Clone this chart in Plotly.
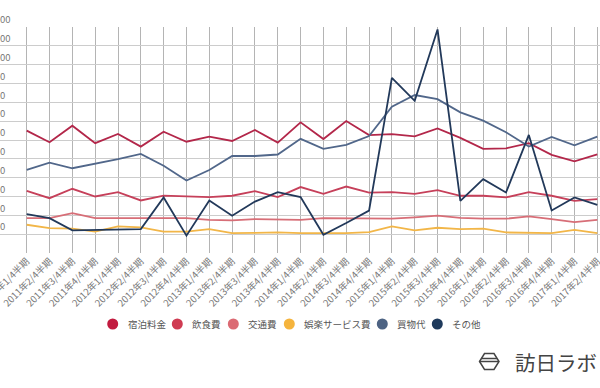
import plotly.graph_objects as go

# ---------------- data ----------------
quarters = [
    "2011年1/4半期", "2011年2/4半期", "2011年3/4半期", "2011年4/4半期",
    "2012年1/4半期", "2012年2/4半期", "2012年3/4半期", "2012年4/4半期",
    "2013年1/4半期", "2013年2/4半期", "2013年3/4半期", "2013年4/4半期",
    "2014年1/4半期", "2014年2/4半期", "2014年3/4半期", "2014年4/4半期",
    "2015年1/4半期", "2015年2/4半期", "2015年3/4半期", "2015年4/4半期",
    "2016年1/4半期", "2016年2/4半期", "2016年3/4半期", "2016年4/4半期",
    "2017年1/4半期", "2017年2/4半期",
]

shukuhaku = [6500, 5880, 6760, 5830, 6320, 5650, 6440, 5910, 6180, 5950, 6530, 5860, 6940,
             6050, 7010, 6260, 6310, 6190, 6610, 6110, 5530, 5560, 5830, 5210, 4870, 5240]
inshoku = [3300, 2910, 3410, 3000, 3230, 2790, 3050, 3000, 2970, 3040, 3280, 2970, 3500,
           3140, 3530, 3210, 3230, 3140, 3340, 3040, 3040, 2950, 3230, 3040, 2770, 2860]
kotsu = [1850, 1850, 2120, 1850, 1850, 1850, 1850, 1850, 1760, 1730, 1800, 1760, 1760,
         1850, 1850, 1850, 1820, 1890, 1980, 1870, 1820, 1820, 1940, 1800, 1640, 1760]
goraku = [1500, 1320, 1290, 1140, 1410, 1360, 1140, 1140, 1270, 1060, 1070, 1090, 1060,
          1060, 1060, 1110, 1410, 1200, 1340, 1270, 1290, 1090, 1090, 1060, 1230, 1060]
kaimono = [4410, 4800, 4500, 4720, 4980, 5260, 4630, 3850, 4410, 5150, 5150, 5230, 6060,
           5530, 5740, 6210, 7770, 8390, 8170, 7470, 7030, 6410, 5650, 6160, 5720, 6180]
sonota = [2070, 1850, 1200, 1230, 1270, 1270, 2950, 920, 2790, 1980, 2730, 3230, 2970,
          970, 1590, 2250, 9300, 8080, 11870, 2770, 3920, 3210, 6270, 2260, 2950, 2560]

series_names = ["宿泊料金", "飲食費", "交通費", "娯楽サービス費", "買物代", "その他"]
series_values = [shukuhaku, inshoku, kotsu, goraku, kaimono, sonota]
legend_colors = ["#c21b3f", "#cf3b52", "#db6a73", "#f5b43d", "#4d6383", "#1f3a5c"]
line_colors = ["#b3274a", "#c6405a", "#d76e77", "#f2b648", "#51678a", "#22395a"]

y_tick_vals = [1000, 2000, 3000, 4000, 5000, 6000, 7000, 8000, 9000, 10000, 11000, 12000]
# the labels are cut by the left edge of the picture: only their last digits show
y_tick_text = ["0", "0", "0", "0", "0", "0", "0", "0", "0", "00", "00", "00"]

logo_text = "訪日ラボ"

# ---------------- layout helpers ----------------
W, H = 600, 388
PLOT_TOP, PLOT_BOTTOM = 27, 253
X0_PX, STEP_PX = 26.7, 22.824


def px_x(px):
    return px / W


def px_y(py):
    return (PLOT_BOTTOM - py) / (PLOT_BOTTOM - PLOT_TOP)


fig = go.Figure()
x_idx = list(range(len(quarters)))
for name, vals, col in zip(series_names, series_values, line_colors):
    fig.add_trace(go.Scatter(
        x=x_idx, y=vals, name=name, mode="lines",
        line=dict(color=col, width=1.8), showlegend=False,
        hovertemplate="%{text}<br>" + name + ": %{y}<extra></extra>",
        text=quarters,
    ))

x_left = -X0_PX / STEP_PX
x_right = (len(quarters) - 1) + (W - (X0_PX + STEP_PX * (len(quarters) - 1))) / STEP_PX

fig.update_layout(
    width=W, height=H,
    margin=dict(l=0, r=0, t=PLOT_TOP, b=H - PLOT_BOTTOM, pad=0, autoexpand=False),
    paper_bgcolor="white", plot_bgcolor="white",
    font=dict(family="Noto Sans CJK JP, Noto Sans, sans-serif", color="#666"),
    xaxis=dict(
        range=[x_left, x_right], tickmode="array", tickvals=x_idx, ticktext=quarters,
        tickangle=-45, tickfont=dict(size=9.5, color="#777"), automargin=False,
        ticklabeloverflow="allow",
        showgrid=True, gridcolor="#b4b4b4", gridwidth=1,
        zeroline=False, showline=False, ticks="", fixedrange=True,
    ),
    yaxis=dict(
        range=[0, 12000], tickmode="array", tickvals=[0] + y_tick_vals,
        ticktext=[""] + y_tick_text, automargin=False,
        ticklabelposition="inside", ticklabelshift=-7, ticklabelstandoff=-3,
        ticklabeloverflow="allow",
        tickfont=dict(size=9.5, color="#777"),
        showgrid=True, gridcolor="#cccccc", gridwidth=1,
        zeroline=False, showline=False, ticks="", fixedrange=True,
    ),
)

# ---------------- legend (drawn by hand) ----------------
legend_cx = [112.7, 177.3, 233.3, 289.3, 382.3, 437.3]
legend_cy = 324
r = 5.5
for cx, name, col in zip(legend_cx, series_names, legend_colors):
    fig.add_shape(type="circle", xref="paper", yref="paper",
                  x0=px_x(cx - r), x1=px_x(cx + r),
                  y0=px_y(legend_cy + r), y1=px_y(legend_cy - r),
                  fillcolor=col, line=dict(width=0))
    fig.add_annotation(xref="paper", yref="paper", x=px_x(cx + 13), y=px_y(legend_cy),
                       xanchor="left", yanchor="middle", text=name, showarrow=False,
                       font=dict(size=9.5, color="#555"))

# ---------------- logo ----------------
hexa = [(484.5, 353.5), (494, 353.5), (499, 361.5), (494, 369.5), (484.5, 369.5), (479.5, 361.5)]
path = "M " + " L ".join(f"{px_x(a)},{px_y(b)}" for a, b in hexa) + " Z"
fig.add_shape(type="path", xref="paper", yref="paper", path=path,
              line=dict(color="#444", width=1.5))
for yy, xa, xb in [(358.5, 481.5, 497), (361.5, 479.5, 499)]:
    fig.add_shape(type="line", xref="paper", yref="paper",
                  x0=px_x(xa), x1=px_x(xb), y0=px_y(yy), y1=px_y(yy),
                  line=dict(color="#444", width=1.5))
fig.add_annotation(xref="paper", yref="paper", x=px_x(513), y=px_y(362),
                   xanchor="left", yanchor="middle", text=logo_text, showarrow=False,
                   font=dict(size=20.5, color="#444",
                             family="Noto Sans CJK JP, sans-serif"))

# remove the browser's default 8px page margin so the figure sits at (0, 0)
fig.write_html(
    "out.html",
    config={"displayModeBar": False},
    post_script="document.body.style.margin='0';document.body.style.padding='0';",
)
